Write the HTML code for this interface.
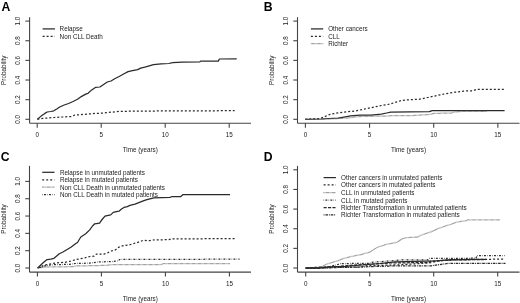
<!DOCTYPE html>
<html><head><meta charset="utf-8"><style>
html,body{margin:0;padding:0;background:#fff;}
body{width:520px;height:303px;overflow:hidden;}
svg{display:block;will-change:transform;font-family:"Liberation Sans",sans-serif;}
</style></head><body>
<svg width="520" height="303" viewBox="0 0 520 303">
<rect width="520" height="303" fill="#fff"/>
<text x="1.6" y="10.6" font-size="12.2" text-anchor="start" font-weight="bold" fill="#000">A</text>
<line x1="29.60" y1="17.20" x2="29.60" y2="123.20" stroke="#444" stroke-width="1.1"/>
<line x1="29.60" y1="123.20" x2="251.00" y2="123.20" stroke="#444" stroke-width="1.1"/>
<line x1="25.40" y1="119.30" x2="29.60" y2="119.30" stroke="#444" stroke-width="1.1"/>
<text x="20.4" y="119.3" font-size="6.3" text-anchor="middle" font-weight="normal" fill="#222" transform="rotate(-90 20.4 119.3)">0.0</text>
<line x1="25.40" y1="99.66" x2="29.60" y2="99.66" stroke="#444" stroke-width="1.1"/>
<text x="20.4" y="99.66" font-size="6.3" text-anchor="middle" font-weight="normal" fill="#222" transform="rotate(-90 20.4 99.66)">0.2</text>
<line x1="25.40" y1="80.02" x2="29.60" y2="80.02" stroke="#444" stroke-width="1.1"/>
<text x="20.4" y="80.02" font-size="6.3" text-anchor="middle" font-weight="normal" fill="#222" transform="rotate(-90 20.4 80.02)">0.4</text>
<line x1="25.40" y1="60.38" x2="29.60" y2="60.38" stroke="#444" stroke-width="1.1"/>
<text x="20.4" y="60.38" font-size="6.3" text-anchor="middle" font-weight="normal" fill="#222" transform="rotate(-90 20.4 60.38)">0.6</text>
<line x1="25.40" y1="40.74" x2="29.60" y2="40.74" stroke="#444" stroke-width="1.1"/>
<text x="20.4" y="40.74" font-size="6.3" text-anchor="middle" font-weight="normal" fill="#222" transform="rotate(-90 20.4 40.74)">0.8</text>
<line x1="25.40" y1="21.10" x2="29.60" y2="21.10" stroke="#444" stroke-width="1.1"/>
<text x="20.4" y="21.1" font-size="6.3" text-anchor="middle" font-weight="normal" fill="#222" transform="rotate(-90 20.4 21.1)">1.0</text>
<line x1="37.20" y1="123.20" x2="37.20" y2="127.70" stroke="#444" stroke-width="1.1"/>
<text x="37.2" y="136.7" font-size="6.3" text-anchor="middle" font-weight="normal" fill="#222">0</text>
<line x1="101.20" y1="123.20" x2="101.20" y2="127.70" stroke="#444" stroke-width="1.1"/>
<text x="101.2" y="136.7" font-size="6.3" text-anchor="middle" font-weight="normal" fill="#222">5</text>
<line x1="165.20" y1="123.20" x2="165.20" y2="127.70" stroke="#444" stroke-width="1.1"/>
<text x="165.2" y="136.7" font-size="6.3" text-anchor="middle" font-weight="normal" fill="#222">10</text>
<line x1="229.20" y1="123.20" x2="229.20" y2="127.70" stroke="#444" stroke-width="1.1"/>
<text x="229.2" y="136.7" font-size="6.3" text-anchor="middle" font-weight="normal" fill="#222">15</text>
<text x="140.3" y="151.8" font-size="6.3" text-anchor="middle" font-weight="normal" fill="#222">Time (years)</text>
<text x="6.2" y="70.2" font-size="6.3" text-anchor="middle" font-weight="normal" fill="#222" transform="rotate(-90 6.2 70.2)">Probability</text>
<text x="263.8" y="10.8" font-size="12.2" text-anchor="start" font-weight="bold" fill="#000">B</text>
<line x1="297.50" y1="17.20" x2="297.50" y2="123.20" stroke="#444" stroke-width="1.1"/>
<line x1="297.50" y1="123.20" x2="519.50" y2="123.20" stroke="#444" stroke-width="1.1"/>
<line x1="293.30" y1="119.30" x2="297.50" y2="119.30" stroke="#444" stroke-width="1.1"/>
<text x="288.4" y="119.3" font-size="6.3" text-anchor="middle" font-weight="normal" fill="#222" transform="rotate(-90 288.4 119.3)">0.0</text>
<line x1="293.30" y1="99.66" x2="297.50" y2="99.66" stroke="#444" stroke-width="1.1"/>
<text x="288.4" y="99.66" font-size="6.3" text-anchor="middle" font-weight="normal" fill="#222" transform="rotate(-90 288.4 99.66)">0.2</text>
<line x1="293.30" y1="80.02" x2="297.50" y2="80.02" stroke="#444" stroke-width="1.1"/>
<text x="288.4" y="80.02" font-size="6.3" text-anchor="middle" font-weight="normal" fill="#222" transform="rotate(-90 288.4 80.02)">0.4</text>
<line x1="293.30" y1="60.38" x2="297.50" y2="60.38" stroke="#444" stroke-width="1.1"/>
<text x="288.4" y="60.38" font-size="6.3" text-anchor="middle" font-weight="normal" fill="#222" transform="rotate(-90 288.4 60.38)">0.6</text>
<line x1="293.30" y1="40.74" x2="297.50" y2="40.74" stroke="#444" stroke-width="1.1"/>
<text x="288.4" y="40.74" font-size="6.3" text-anchor="middle" font-weight="normal" fill="#222" transform="rotate(-90 288.4 40.74)">0.8</text>
<line x1="293.30" y1="21.10" x2="297.50" y2="21.10" stroke="#444" stroke-width="1.1"/>
<text x="288.4" y="21.1" font-size="6.3" text-anchor="middle" font-weight="normal" fill="#222" transform="rotate(-90 288.4 21.1)">1.0</text>
<line x1="305.40" y1="123.20" x2="305.40" y2="127.70" stroke="#444" stroke-width="1.1"/>
<text x="305.4" y="136.7" font-size="6.3" text-anchor="middle" font-weight="normal" fill="#222">0</text>
<line x1="369.55" y1="123.20" x2="369.55" y2="127.70" stroke="#444" stroke-width="1.1"/>
<text x="369.55" y="136.7" font-size="6.3" text-anchor="middle" font-weight="normal" fill="#222">5</text>
<line x1="433.70" y1="123.20" x2="433.70" y2="127.70" stroke="#444" stroke-width="1.1"/>
<text x="433.7" y="136.7" font-size="6.3" text-anchor="middle" font-weight="normal" fill="#222">10</text>
<line x1="497.85" y1="123.20" x2="497.85" y2="127.70" stroke="#444" stroke-width="1.1"/>
<text x="497.85" y="136.7" font-size="6.3" text-anchor="middle" font-weight="normal" fill="#222">15</text>
<text x="408.5" y="151.8" font-size="6.3" text-anchor="middle" font-weight="normal" fill="#222">Time (years)</text>
<text x="274.1" y="70.2" font-size="6.3" text-anchor="middle" font-weight="normal" fill="#222" transform="rotate(-90 274.1 70.2)">Probability</text>
<text x="0.8" y="160.9" font-size="12.2" text-anchor="start" font-weight="bold" fill="#000">C</text>
<line x1="29.50" y1="165.90" x2="29.50" y2="272.10" stroke="#444" stroke-width="1.1"/>
<line x1="29.50" y1="272.10" x2="251.00" y2="272.10" stroke="#444" stroke-width="1.1"/>
<line x1="25.30" y1="268.00" x2="29.50" y2="268.00" stroke="#444" stroke-width="1.1"/>
<text x="20.3" y="268.0" font-size="6.3" text-anchor="middle" font-weight="normal" fill="#222" transform="rotate(-90 20.3 268.0)">0.0</text>
<line x1="25.30" y1="250.68" x2="29.50" y2="250.68" stroke="#444" stroke-width="1.1"/>
<text x="20.3" y="250.68" font-size="6.3" text-anchor="middle" font-weight="normal" fill="#222" transform="rotate(-90 20.3 250.68)">0.2</text>
<line x1="25.30" y1="233.36" x2="29.50" y2="233.36" stroke="#444" stroke-width="1.1"/>
<text x="20.3" y="233.36" font-size="6.3" text-anchor="middle" font-weight="normal" fill="#222" transform="rotate(-90 20.3 233.36)">0.4</text>
<line x1="25.30" y1="216.04" x2="29.50" y2="216.04" stroke="#444" stroke-width="1.1"/>
<text x="20.3" y="216.04" font-size="6.3" text-anchor="middle" font-weight="normal" fill="#222" transform="rotate(-90 20.3 216.04)">0.6</text>
<line x1="25.30" y1="198.72" x2="29.50" y2="198.72" stroke="#444" stroke-width="1.1"/>
<text x="20.3" y="198.72" font-size="6.3" text-anchor="middle" font-weight="normal" fill="#222" transform="rotate(-90 20.3 198.72)">0.8</text>
<line x1="25.30" y1="181.40" x2="29.50" y2="181.40" stroke="#444" stroke-width="1.1"/>
<text x="20.3" y="181.4" font-size="6.3" text-anchor="middle" font-weight="normal" fill="#222" transform="rotate(-90 20.3 181.4)">1.0</text>
<line x1="37.40" y1="272.10" x2="37.40" y2="276.60" stroke="#444" stroke-width="1.1"/>
<text x="37.4" y="285.6" font-size="6.3" text-anchor="middle" font-weight="normal" fill="#222">0</text>
<line x1="101.40" y1="272.10" x2="101.40" y2="276.60" stroke="#444" stroke-width="1.1"/>
<text x="101.4" y="285.6" font-size="6.3" text-anchor="middle" font-weight="normal" fill="#222">5</text>
<line x1="165.40" y1="272.10" x2="165.40" y2="276.60" stroke="#444" stroke-width="1.1"/>
<text x="165.4" y="285.6" font-size="6.3" text-anchor="middle" font-weight="normal" fill="#222">10</text>
<line x1="229.40" y1="272.10" x2="229.40" y2="276.60" stroke="#444" stroke-width="1.1"/>
<text x="229.4" y="285.6" font-size="6.3" text-anchor="middle" font-weight="normal" fill="#222">15</text>
<text x="140.25" y="300.6" font-size="6.3" text-anchor="middle" font-weight="normal" fill="#222">Time (years)</text>
<text x="6.1" y="219.0" font-size="6.3" text-anchor="middle" font-weight="normal" fill="#222" transform="rotate(-90 6.1 219.0)">Probability</text>
<text x="263.8" y="161.0" font-size="12.2" text-anchor="start" font-weight="bold" fill="#000">D</text>
<line x1="297.50" y1="165.90" x2="297.50" y2="272.10" stroke="#444" stroke-width="1.1"/>
<line x1="297.50" y1="272.10" x2="519.50" y2="272.10" stroke="#444" stroke-width="1.1"/>
<line x1="293.30" y1="268.00" x2="297.50" y2="268.00" stroke="#444" stroke-width="1.1"/>
<text x="288.4" y="268.0" font-size="6.3" text-anchor="middle" font-weight="normal" fill="#222" transform="rotate(-90 288.4 268.0)">0.0</text>
<line x1="293.30" y1="248.36" x2="297.50" y2="248.36" stroke="#444" stroke-width="1.1"/>
<text x="288.4" y="248.36" font-size="6.3" text-anchor="middle" font-weight="normal" fill="#222" transform="rotate(-90 288.4 248.36)">0.2</text>
<line x1="293.30" y1="228.72" x2="297.50" y2="228.72" stroke="#444" stroke-width="1.1"/>
<text x="288.4" y="228.72" font-size="6.3" text-anchor="middle" font-weight="normal" fill="#222" transform="rotate(-90 288.4 228.72)">0.4</text>
<line x1="293.30" y1="209.08" x2="297.50" y2="209.08" stroke="#444" stroke-width="1.1"/>
<text x="288.4" y="209.08" font-size="6.3" text-anchor="middle" font-weight="normal" fill="#222" transform="rotate(-90 288.4 209.08)">0.6</text>
<line x1="293.30" y1="189.44" x2="297.50" y2="189.44" stroke="#444" stroke-width="1.1"/>
<text x="288.4" y="189.44" font-size="6.3" text-anchor="middle" font-weight="normal" fill="#222" transform="rotate(-90 288.4 189.44)">0.8</text>
<line x1="293.30" y1="169.80" x2="297.50" y2="169.80" stroke="#444" stroke-width="1.1"/>
<text x="288.4" y="169.8" font-size="6.3" text-anchor="middle" font-weight="normal" fill="#222" transform="rotate(-90 288.4 169.8)">1.0</text>
<line x1="305.70" y1="272.10" x2="305.70" y2="276.60" stroke="#444" stroke-width="1.1"/>
<text x="305.7" y="285.6" font-size="6.3" text-anchor="middle" font-weight="normal" fill="#222">0</text>
<line x1="369.70" y1="272.10" x2="369.70" y2="276.60" stroke="#444" stroke-width="1.1"/>
<text x="369.7" y="285.6" font-size="6.3" text-anchor="middle" font-weight="normal" fill="#222">5</text>
<line x1="433.70" y1="272.10" x2="433.70" y2="276.60" stroke="#444" stroke-width="1.1"/>
<text x="433.7" y="285.6" font-size="6.3" text-anchor="middle" font-weight="normal" fill="#222">10</text>
<line x1="497.70" y1="272.10" x2="497.70" y2="276.60" stroke="#444" stroke-width="1.1"/>
<text x="497.7" y="285.6" font-size="6.3" text-anchor="middle" font-weight="normal" fill="#222">15</text>
<text x="408.5" y="300.6" font-size="6.3" text-anchor="middle" font-weight="normal" fill="#222">Time (years)</text>
<text x="274.1" y="219.0" font-size="6.3" text-anchor="middle" font-weight="normal" fill="#222" transform="rotate(-90 274.1 219.0)">Probability</text>
<path d="M42.6,28.9 L54.9,28.9" fill="none" stroke="#2a2a2a" stroke-width="1.25" stroke-linejoin="round"/>
<text x="59.6" y="31.45" font-size="6.3" text-anchor="start" font-weight="normal" fill="#222">Relapse</text>
<path d="M42.6,36.3 L54.9,36.3" fill="none" stroke="#2a2a2a" stroke-width="1.25" stroke-dasharray="2 2" stroke-linejoin="round"/>
<text x="59.6" y="38.85" font-size="6.3" text-anchor="start" font-weight="normal" fill="#222">Non CLL Death</text>
<path d="M310.9,28.9 L323.2,28.9" fill="none" stroke="#2a2a2a" stroke-width="1.25" stroke-linejoin="round"/>
<text x="328.2" y="31.45" font-size="6.3" text-anchor="start" font-weight="normal" fill="#222">Other cancers</text>
<path d="M310.9,36.3 L323.2,36.3" fill="none" stroke="#2a2a2a" stroke-width="1.25" stroke-dasharray="2 2" stroke-linejoin="round"/>
<text x="328.2" y="38.85" font-size="6.3" text-anchor="start" font-weight="normal" fill="#222">CLL</text>
<path d="M310.9,43.5 L323.2,43.5" fill="none" stroke="#666" stroke-width="1.25" stroke-dasharray="0.6 0.6" stroke-linejoin="round"/>
<text x="328.2" y="46.05" font-size="6.3" text-anchor="start" font-weight="normal" fill="#222">Richter</text>
<path d="M42.2,172.3 L54.5,172.3" fill="none" stroke="#2a2a2a" stroke-width="1.25" stroke-linejoin="round"/>
<text x="59.9" y="174.85" font-size="6.3" text-anchor="start" font-weight="normal" fill="#222">Relapse in unmutated patients</text>
<path d="M42.2,179.8 L54.5,179.8" fill="none" stroke="#2a2a2a" stroke-width="1.25" stroke-dasharray="2 2" stroke-linejoin="round"/>
<text x="59.9" y="182.35" font-size="6.3" text-anchor="start" font-weight="normal" fill="#222">Relapse in mutated patients</text>
<path d="M42.2,187.2 L54.5,187.2" fill="none" stroke="#666" stroke-width="1.25" stroke-dasharray="0.6 0.6" stroke-linejoin="round"/>
<text x="59.9" y="189.75" font-size="6.3" text-anchor="start" font-weight="normal" fill="#222">Non CLL Death in unmutated patients</text>
<path d="M42.2,194.7 L54.5,194.7" fill="none" stroke="#2a2a2a" stroke-width="1.25" stroke-dasharray="0.5 1.3 1.9 1.3" stroke-linejoin="round"/>
<text x="59.9" y="197.25" font-size="6.3" text-anchor="start" font-weight="normal" fill="#222">Non CLL Death in mutated patients</text>
<path d="M323.6,177.6 L335.9,177.6" fill="none" stroke="#2a2a2a" stroke-width="1.25" stroke-linejoin="round"/>
<text x="341.0" y="180.15" font-size="6.3" text-anchor="start" font-weight="normal" fill="#222">Other cancers in unmutated patients</text>
<path d="M323.6,184.9 L335.9,184.9" fill="none" stroke="#2a2a2a" stroke-width="1.25" stroke-dasharray="2 2" stroke-linejoin="round"/>
<text x="341.0" y="187.45" font-size="6.3" text-anchor="start" font-weight="normal" fill="#222">Other cancers in mutated patients</text>
<path d="M323.6,192.5 L335.9,192.5" fill="none" stroke="#666" stroke-width="1.25" stroke-dasharray="0.6 0.6" stroke-linejoin="round"/>
<text x="341.0" y="195.05" font-size="6.3" text-anchor="start" font-weight="normal" fill="#222">CLL in unmutated patients</text>
<path d="M323.6,200.2 L335.9,200.2" fill="none" stroke="#2a2a2a" stroke-width="1.25" stroke-dasharray="0.5 1.3 1.9 1.3" stroke-linejoin="round"/>
<text x="341.0" y="202.75" font-size="6.3" text-anchor="start" font-weight="normal" fill="#222">CLL in mutated patients</text>
<path d="M323.6,207.6 L335.9,207.6" fill="none" stroke="#2a2a2a" stroke-width="1.25" stroke-dasharray="3.1 1.3" stroke-linejoin="round"/>
<text x="341.0" y="210.15" font-size="6.3" text-anchor="start" font-weight="normal" fill="#222">Richter Transformation in unmutated patients</text>
<path d="M323.6,214.9 L335.9,214.9" fill="none" stroke="#2a2a2a" stroke-width="1.25" stroke-dasharray="0.9 0.9 2.6 0.9" stroke-linejoin="round"/>
<text x="341.0" y="217.45" font-size="6.3" text-anchor="start" font-weight="normal" fill="#222">Richter Transformation in mutated patients</text>
<path d="M37.4,119.3 L41.1,116.1 L44.9,113.4 L47.1,112.0 L50.8,111.5 L53.8,110.8 L56.7,109.0 L59.7,107.0 L64.2,105.0 L68.6,103.5 L73.1,101.5 L77.5,99.3 L81.3,96.6 L85.7,94.1 L88.0,93.3 L91.7,89.9 L95.4,87.4 L99.9,87.0 L103.6,84.4 L107.3,82.0 L111.0,81.0 L114.7,78.8 L119.2,76.5 L123.6,74.0 L128.1,71.6 L132.5,70.6 L137.7,69.6 L140.7,68.1 L145.8,66.9 L153.5,64.6 L161.2,63.8 L168.8,63.5 L172.7,62.7 L182.3,62.1 L199.8,61.9 L200.6,61.1 L218.3,61.1 L219.4,59.0 L236.7,58.9" fill="none" stroke="#2a2a2a" stroke-width="1.25" stroke-linejoin="round"/>
<path d="M37.4,119.3 L42.7,118.4 L54.2,117.5 L62.7,117.0 L71.5,116.5 L74.4,115.2 L83.5,114.4 L92.7,113.6 L103.5,113.0 L106.2,112.7 L115.8,111.7 L120.4,111.3 L135.0,111.2 L165.0,110.9 L234.6,110.7" fill="none" stroke="#2a2a2a" stroke-width="1.25" stroke-dasharray="2 2" stroke-linejoin="round"/>
<path d="M305.2,119.3 L320.8,119.0 L328.8,118.5 L338.0,118.1 L343.8,117.1 L350.7,115.9 L360.0,115.2 L370.9,115.1 L381.4,114.1 L386.7,113.0 L390.7,112.1 L429.3,111.7 L432.3,110.6 L504.6,110.5" fill="none" stroke="#2a2a2a" stroke-width="1.25" stroke-linejoin="round"/>
<path d="M305.2,119.3 L319.6,118.5 L323.1,117.3 L330.0,114.4 L338.0,112.9 L346.1,111.8 L355.4,111.0 L362.9,109.4 L370.9,107.7 L381.4,105.5 L389.3,104.2 L396.0,102.2 L401.2,100.6 L407.8,99.8 L418.9,99.3 L427.8,97.5 L436.7,95.6 L445.7,93.7 L454.6,92.2 L463.5,91.1 L473.4,90.7 L476.3,89.4 L504.6,89.4" fill="none" stroke="#2a2a2a" stroke-width="1.25" stroke-dasharray="2 2" stroke-linejoin="round"/>
<path d="M305.2,119.3 L323.0,119.3 L348.4,118.0 L355.0,116.9 L362.9,116.4 L388.0,116.0 L390.7,115.6 L410.0,115.7 L429.3,114.5 L433.8,113.4 L451.6,113.0 L454.6,112.0 L462.0,111.4 L486.7,111.4" fill="none" stroke="#666" stroke-width="1.25" stroke-dasharray="0.6 0.6" stroke-linejoin="round"/>
<path d="M37.6,268.0 L40.3,265.5 L43.4,262.5 L45.6,260.7 L47.1,259.6 L50.8,259.1 L54.0,258.3 L56.1,256.5 L59.3,253.8 L62.5,252.3 L66.7,249.8 L70.9,247.3 L75.8,243.6 L77.5,242.5 L80.8,237.0 L85.7,233.7 L89.7,229.9 L92.5,226.0 L94.7,223.8 L99.6,223.2 L100.0,222.3 L102.5,219.0 L105.0,216.1 L108.3,215.3 L110.7,214.9 L113.2,212.4 L116.5,211.6 L119.0,211.2 L121.5,209.1 L124.0,207.4 L127.3,206.6 L130.0,205.4 L135.0,204.2 L143.3,200.9 L146.9,199.6 L153.9,197.8 L170.0,197.3 L172.3,196.5 L180.8,196.5 L183.1,194.5 L230.0,194.5" fill="none" stroke="#2a2a2a" stroke-width="1.25" stroke-linejoin="round"/>
<path d="M37.9,268.0 L44.2,265.2 L50.0,264.0 L55.8,262.9 L65.0,262.3 L70.8,261.1 L76.5,259.4 L83.4,258.3 L90.0,256.5 L94.0,256.2 L96.3,254.1 L103.8,254.1 L107.3,253.0 L111.3,251.0 L115.4,249.9 L118.8,247.2 L123.4,245.6 L129.2,244.9 L133.8,243.5 L138.4,242.2 L143.1,240.4 L150.0,240.6 L152.7,240.0 L168.9,239.6 L171.2,238.9 L235.8,238.6" fill="none" stroke="#2a2a2a" stroke-width="1.25" stroke-dasharray="2 2" stroke-linejoin="round"/>
<path d="M37.6,268.0 L46.5,266.9 L73.1,266.7 L75.4,266.0 L90.0,265.7 L105.4,265.4 L113.1,264.6 L160.8,264.6 L163.8,263.5 L230.0,263.5" fill="none" stroke="#666" stroke-width="1.25" stroke-dasharray="0.6 0.6" stroke-linejoin="round"/>
<path d="M37.6,268.0 L39.6,267.5 L45.4,265.8 L51.1,264.8 L58.1,264.6 L69.6,264.4 L75.4,263.5 L90.0,263.1 L97.7,262.0 L113.1,261.5 L117.7,260.8 L120.0,259.5 L170.0,259.4 L239.6,259.1" fill="none" stroke="#2a2a2a" stroke-width="1.25" stroke-dasharray="0.5 1.3 1.9 1.3" stroke-linejoin="round"/>
<path d="M305.7,268.0 L320.0,268.0 L329.0,266.8 L345.0,266.3 L362.0,265.0 L380.0,263.5 L395.0,261.8 L425.0,261.2 L436.0,260.8 L452.0,259.6 L486.0,259.4" fill="none" stroke="#2a2a2a" stroke-width="1.25" stroke-linejoin="round"/>
<path d="M305.7,268.0 L320.0,268.0 L345.0,267.0 L362.0,267.0 L365.0,265.8 L400.0,264.8 L430.0,262.8 L440.0,260.6 L460.0,259.6 L504.6,259.1" fill="none" stroke="#2a2a2a" stroke-width="1.25" stroke-dasharray="2 2" stroke-linejoin="round"/>
<path d="M305.7,268.0 L320.4,267.4 L327.3,263.9 L336.0,261.3 L344.6,258.2 L353.3,256.1 L361.9,254.4 L370.6,251.8 L374.0,249.2 L379.2,246.6 L387.9,244.0 L395.0,242.8 L398.5,241.4 L401.9,238.8 L407.1,237.6 L417.5,237.1 L422.7,234.5 L429.6,232.4 L436.5,229.3 L443.4,226.7 L450.4,224.5 L457.3,222.0 L465.9,220.7 L467.7,219.8 L500.0,219.8" fill="none" stroke="#666" stroke-width="1.25" stroke-dasharray="0.6 0.6" stroke-linejoin="round"/>
<path d="M305.7,268.0 L322.0,268.0 L330.0,266.5 L338.0,264.5 L339.2,263.6 L369.0,263.3 L372.0,262.3 L401.5,260.0 L428.0,259.8 L429.0,258.5 L452.0,258.4 L476.0,258.2 L477.0,255.5 L504.6,255.5" fill="none" stroke="#2a2a2a" stroke-width="1.25" stroke-dasharray="0.5 1.3 1.9 1.3" stroke-linejoin="round"/>
<path d="M305.7,268.0 L320.8,267.1 L338.0,266.5 L350.0,265.4 L390.0,263.0 L429.0,262.5 L430.0,261.3 L452.0,260.0 L486.0,259.5" fill="none" stroke="#2a2a2a" stroke-width="1.25" stroke-dasharray="3.1 1.3" stroke-linejoin="round"/>
<path d="M305.7,268.0 L320.0,268.0 L338.0,267.5 L360.0,267.0 L390.0,266.0 L431.0,265.8 L447.0,263.5 L505.5,263.4" fill="none" stroke="#2a2a2a" stroke-width="1.25" stroke-dasharray="0.9 0.9 2.6 0.9" stroke-linejoin="round"/>
</svg>
</body></html>
